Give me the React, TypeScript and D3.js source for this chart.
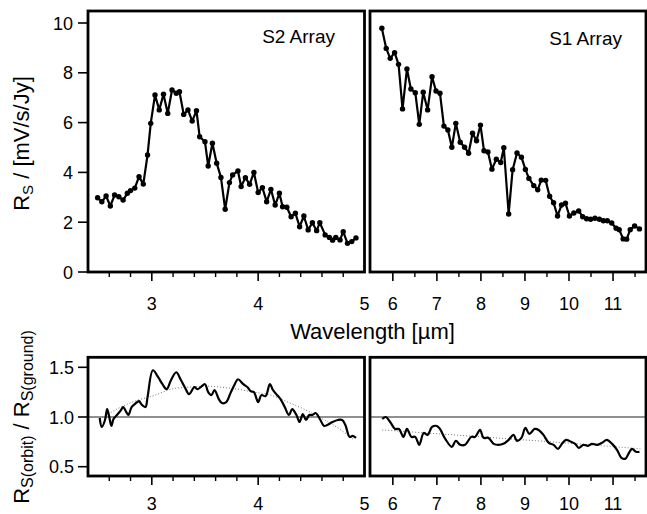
import React from 'react';
import * as d3 from 'd3';

// ---------- data ----------
const s2Wave = [2.49, 2.53, 2.57, 2.61, 2.65, 2.69, 2.73, 2.77, 2.80, 2.84, 2.88, 2.92, 2.96, 2.99, 3.03, 3.07, 3.11, 3.15, 3.19, 3.23, 3.26, 3.30, 3.34, 3.38, 3.42, 3.45, 3.50, 3.53, 3.57, 3.61, 3.65, 3.69, 3.73, 3.76, 3.81, 3.84, 3.88, 3.92, 3.96, 4.00, 4.04, 4.08, 4.12, 4.16, 4.20, 4.23, 4.27, 4.31, 4.35, 4.39, 4.43, 4.47, 4.51, 4.55, 4.58, 4.63, 4.67, 4.70, 4.73, 4.77, 4.80, 4.84, 4.88, 4.92];
const s2Rs = [2.98, 2.82, 3.05, 2.65, 3.09, 3.02, 2.89, 3.16, 3.27, 3.37, 3.83, 3.53, 4.70, 5.97, 7.11, 6.51, 7.14, 6.37, 7.31, 7.18, 7.24, 6.33, 6.51, 6.06, 6.48, 5.43, 5.23, 4.26, 5.17, 4.37, 3.80, 2.52, 3.59, 3.90, 4.06, 3.43, 3.79, 3.52, 4.00, 3.19, 3.39, 2.82, 3.32, 2.69, 3.16, 2.62, 2.60, 2.22, 2.36, 1.82, 2.25, 1.69, 1.98, 1.66, 1.98, 1.49, 1.39, 1.28, 1.39, 1.29, 1.62, 1.15, 1.22, 1.37];

const s1Wave = [5.75, 5.85, 5.94, 6.04, 6.13, 6.22, 6.32, 6.41, 6.51, 6.60, 6.69, 6.79, 6.89, 6.98, 7.07, 7.16, 7.25, 7.34, 7.43, 7.53, 7.63, 7.72, 7.81, 7.90, 7.99, 8.07, 8.16, 8.25, 8.35, 8.45, 8.52, 8.63, 8.72, 8.82, 8.92, 9.01, 9.09, 9.20, 9.29, 9.37, 9.47, 9.56, 9.65, 9.74, 9.83, 9.92, 10.01, 10.11, 10.22, 10.31, 10.40, 10.49, 10.59, 10.69, 10.78, 10.87, 10.97, 11.07, 11.14, 11.23, 11.31, 11.39, 11.49, 11.60];
const s1Rs = [9.79, 8.98, 8.58, 8.81, 8.34, 6.55, 8.15, 7.35, 7.20, 5.93, 7.22, 6.51, 7.84, 7.27, 7.18, 5.86, 5.70, 5.01, 5.97, 5.21, 5.01, 4.77, 5.57, 5.27, 5.90, 4.87, 4.82, 4.13, 4.53, 4.40, 4.99, 2.33, 4.11, 4.78, 4.61, 4.12, 3.76, 3.47, 3.30, 3.69, 3.68, 3.04, 2.78, 2.25, 2.69, 2.76, 2.25, 2.37, 2.45, 2.22, 2.14, 2.12, 2.16, 2.12, 2.06, 2.06, 1.97, 1.76, 1.70, 1.33, 1.32, 1.70, 1.85, 1.73];

const ratioS2Wave = [2.51, 2.53, 2.56, 2.58, 2.60, 2.62, 2.64, 2.68, 2.71, 2.73, 2.76, 2.78, 2.81, 2.84, 2.88, 2.90, 2.94, 2.96, 3.01, 3.06, 3.10, 3.14, 3.18, 3.23, 3.27, 3.31, 3.35, 3.40, 3.43, 3.46, 3.50, 3.53, 3.56, 3.59, 3.63, 3.66, 3.70, 3.74, 3.78, 3.81, 3.86, 3.90, 3.93, 3.96, 4.00, 4.03, 4.07, 4.11, 4.14, 4.17, 4.21, 4.25, 4.29, 4.32, 4.36, 4.39, 4.42, 4.45, 4.48, 4.51, 4.54, 4.58, 4.62, 4.65, 4.70, 4.75, 4.79, 4.82, 4.86, 4.89, 4.92];
const ratioS2 = [0.99, 0.90, 0.97, 1.08, 1.00, 0.91, 0.98, 1.03, 1.07, 1.10, 1.05, 1.02, 1.10, 1.13, 1.16, 1.13, 1.10, 1.20, 1.47, 1.40, 1.33, 1.28, 1.37, 1.45, 1.38, 1.30, 1.23, 1.30, 1.28, 1.30, 1.33, 1.25, 1.22, 1.27, 1.18, 1.14, 1.15, 1.24, 1.33, 1.38, 1.33, 1.30, 1.26, 1.25, 1.15, 1.22, 1.21, 1.33, 1.27, 1.23, 1.18, 1.10, 1.02, 1.08, 1.02, 0.95, 1.03, 0.97, 1.02, 1.02, 1.04, 0.98, 0.91, 0.92, 0.95, 0.97, 0.97, 0.92, 0.80, 0.81, 0.79];
const fitS2Wave = [2.59, 2.71, 2.87, 3.03, 3.18, 3.34, 3.50, 3.65, 3.81, 3.96, 4.12, 4.28, 4.43, 4.59, 4.75, 4.90];
const fitS2 = [1.03, 1.10, 1.17, 1.22, 1.28, 1.30, 1.31, 1.30, 1.28, 1.25, 1.22, 1.15, 1.08, 0.99, 0.89, 0.77];

const ratioS1Wave = [5.76, 5.84, 5.94, 6.05, 6.14, 6.24, 6.32, 6.42, 6.51, 6.60, 6.70, 6.79, 6.89, 7.00, 7.07, 7.19, 7.34, 7.43, 7.53, 7.64, 7.78, 7.87, 7.98, 8.06, 8.17, 8.29, 8.40, 8.51, 8.63, 8.74, 8.82, 8.92, 9.01, 9.10, 9.22, 9.31, 9.42, 9.54, 9.65, 9.75, 9.84, 9.93, 10.05, 10.14, 10.22, 10.33, 10.43, 10.52, 10.64, 10.75, 10.86, 10.98, 11.09, 11.19, 11.28, 11.35, 11.43, 11.52, 11.60];
const ratioS1 = [0.98, 1.00, 0.95, 0.88, 0.88, 0.80, 0.88, 0.80, 0.80, 0.72, 0.84, 0.82, 0.90, 0.91, 0.88, 0.78, 0.70, 0.76, 0.72, 0.72, 0.80, 0.80, 0.87, 0.79, 0.79, 0.73, 0.72, 0.73, 0.77, 0.82, 0.76, 0.79, 0.89, 0.83, 0.88, 0.87, 0.82, 0.74, 0.72, 0.68, 0.73, 0.77, 0.75, 0.73, 0.69, 0.72, 0.71, 0.73, 0.72, 0.74, 0.77, 0.73, 0.67, 0.59, 0.58, 0.63, 0.68, 0.65, 0.65];
const fitS1Wave = [5.76, 8.02, 9.92, 11.62];
const fitS1 = [0.87, 0.80, 0.74, 0.68];

const xMajorS2 = [3, 4, 5];
const xMinorS2 = [2.6, 2.8, 3.2, 3.4, 3.6, 3.8, 4.2, 4.4, 4.6, 4.8];
const xMajorS1 = [6, 7, 8, 9, 10, 11];
const xMinorS1 = [6.5, 7.5, 8.5, 9.5, 10.5, 11.5];
const yTicksTop = [0, 2, 4, 6, 8, 10];
const yTicksBot = [0.5, 1.0, 1.5];
const yTickLabelsBot = ['0.5', '1.0', '1.5'];

const FONT = 'Liberation Sans, Arial, Helvetica, sans-serif';

export default function App() {
  const W = 647, H = 514;
  const L = { x0: 88, x1: 364.5 };
  const R = { x0: 370, x1: 646 };
  const T = { y0: 11, y1: 272 };
  const B = { y0: 357.3, y1: 476 };

  const xL = d3.scaleLinear().domain([2.4, 5.0]).range([L.x0, L.x1]);
  const xR = d3.scaleLinear().domain([5.47, 11.76]).range([369.5, 646.5]);
  const yT = d3.scaleLinear().domain([0, 10]).range([272, 23]);
  const yB = d3.scaleLinear().domain([0.5, 1.5]).range([466.7, 367.3]);

  const mk = (xs: number[], ys: number[]) => xs.map((x, i) => [x, ys[i]] as [number, number]);
  const line = (xsc: any, ysc: any, curve?: any) => {
    const l = d3.line<[number, number]>().x(d => xsc(d[0])).y(d => ysc(d[1]));
    if (curve) l.curve(curve);
    return l;
  };

  const s2 = mk(s2Wave, s2Rs);
  const s1 = mk(s1Wave, s1Rs);
  const rS2 = mk(ratioS2Wave, ratioS2);
  const rS1 = mk(ratioS1Wave, ratioS1);
  const fS2 = mk(fitS2Wave, fitS2);
  const fS1 = mk(fitS1Wave, fitS1);

  const frameW = 2.8;
  const TICKFS = 18;

  const xTicks = (xsc: any, major: number[], minor: number[], yBase: number, key: string) => (
    <g key={key}>
      {minor.map(v => (
        <line key={'mi' + v} x1={xsc(v)} x2={xsc(v)} y1={yBase} y2={yBase + 5} stroke="#000" strokeWidth={1.4} />
      ))}
      {major.map(v => (
        <line key={'ma' + v} x1={xsc(v)} x2={xsc(v)} y1={yBase} y2={yBase + 9} stroke="#000" strokeWidth={1.6} />
      ))}
    </g>
  );

  const xLabels = (xsc: any, major: number[], yText: number, key: string) => (
    <g key={key}>
      {major.map(v => (
        <text key={v} x={xsc(v)} y={yText} textAnchor="middle" fontSize={TICKFS} fontFamily={FONT} fill="#000">{v}</text>
      ))}
    </g>
  );

  return (
    <svg width={W} height={H} style={{ position: 'absolute', left: 0, top: 0, background: '#fff' }}>
      <rect x={0} y={0} width={W} height={H} fill="#fff" />

      {/* reference line at 1.0 */}
      <line x1={L.x0} x2={L.x1} y1={yB(1)} y2={yB(1)} stroke="#222" strokeWidth={1.2} />
      <line x1={R.x0} x2={R.x1} y1={yB(1)} y2={yB(1)} stroke="#222" strokeWidth={1.2} />

      {/* fits */}
      <path d={line(xL, yB, d3.curveNatural)(fS2) || ''} fill="none" stroke="#777" strokeWidth={1} strokeDasharray="1,2" />
      <path d={line(xR, yB)(fS1) || ''} fill="none" stroke="#777" strokeWidth={1} strokeDasharray="1,2" />

      {/* ratio curves */}
      <path d={line(xL, yB, d3.curveCatmullRom)(rS2) || ''} fill="none" stroke="#000" strokeWidth={2.2} strokeLinejoin="round" />
      <path d={line(xR, yB, d3.curveCatmullRom)(rS1) || ''} fill="none" stroke="#000" strokeWidth={2.2} strokeLinejoin="round" />

      {/* spectra */}
      <path d={line(xL, yT)(s2) || ''} fill="none" stroke="#000" strokeWidth={2.2} strokeLinejoin="round" />
      {s2.map((d, i) => <circle key={'a' + i} cx={xL(d[0])} cy={yT(d[1])} r={2.7} fill="#000" />)}
      <path d={line(xR, yT)(s1) || ''} fill="none" stroke="#000" strokeWidth={2.2} strokeLinejoin="round" />
      {s1.map((d, i) => <circle key={'b' + i} cx={xR(d[0])} cy={yT(d[1])} r={2.7} fill="#000" />)}

      {/* frames */}
      <rect x={L.x0} y={T.y0} width={L.x1 - L.x0} height={T.y1 - T.y0} fill="none" stroke="#000" strokeWidth={frameW} />
      <rect x={R.x0} y={T.y0} width={R.x1 - R.x0} height={T.y1 - T.y0} fill="none" stroke="#000" strokeWidth={frameW} />
      <rect x={L.x0} y={B.y0} width={L.x1 - L.x0} height={B.y1 - B.y0} fill="none" stroke="#000" strokeWidth={frameW} />
      <rect x={R.x0} y={B.y0} width={R.x1 - R.x0} height={B.y1 - B.y0} fill="none" stroke="#000" strokeWidth={frameW} />

      {/* x ticks */}
      {xTicks(xL, [3, 4], xMinorS2, T.y1, 'tl')}
      {xTicks(xR, xMajorS1, xMinorS1, T.y1, 'tr')}
      {xTicks(xL, [3, 4], xMinorS2, B.y1, 'bl')}
      {xTicks(xR, xMajorS1, xMinorS1, B.y1, 'br')}

      {/* x labels */}
      {xLabels(xL, xMajorS2, 309.5, 'ltl')}
      {xLabels(xR, xMajorS1, 309.5, 'ltr')}
      {xLabels(xL, xMajorS2, 510, 'lbl')}
      {xLabels(xR, xMajorS1, 510, 'lbr')}

      {/* y ticks + labels */}
      {yTicksTop.map(v => (
        <g key={'yt' + v}>
          <line x1={L.x0 - 10} x2={L.x0} y1={yT(v)} y2={yT(v)} stroke="#000" strokeWidth={1.6} />
          <text x={73} y={yT(v) + 6.5} textAnchor="end" fontSize={TICKFS} fontFamily={FONT}>{v}</text>
        </g>
      ))}
      {yTicksBot.map((v, i) => (
        <g key={'yb' + v}>
          <line x1={L.x0 - 10} x2={L.x0} y1={yB(v)} y2={yB(v)} stroke="#000" strokeWidth={1.6} />
          <text x={74} y={yB(v) + 6.5} textAnchor="end" fontSize={TICKFS} fontFamily={FONT}>{yTickLabelsBot[i]}</text>
        </g>
      ))}

      {/* panel labels */}
      <text x={335} y={43} textAnchor="end" fontSize={19} fontFamily={FONT}>S2 Array</text>
      <text x={622} y={44.5} textAnchor="end" fontSize={19} fontFamily={FONT}>S1 Array</text>

      {/* axis titles */}
      <text x={372.5} y={339} textAnchor="middle" fontSize={22} fontFamily={FONT}>Wavelength [µm]</text>
      <text transform="translate(28.5,143.5) rotate(-90)" textAnchor="middle" fontSize={22} fontFamily={FONT}>
        R<tspan fontSize={15} dy={4}>S</tspan><tspan dy={-4}> / [mV/s/Jy]</tspan>
      </text>
      <text transform="translate(28.5,417) rotate(-90)" textAnchor="middle" fontSize={22} fontFamily={FONT}>
        R<tspan fontSize={16} dy={4}>S(orbit)</tspan><tspan dy={-4}> / R</tspan><tspan fontSize={16} dy={4}>S(ground)</tspan>
      </text>
    </svg>
  );
}
